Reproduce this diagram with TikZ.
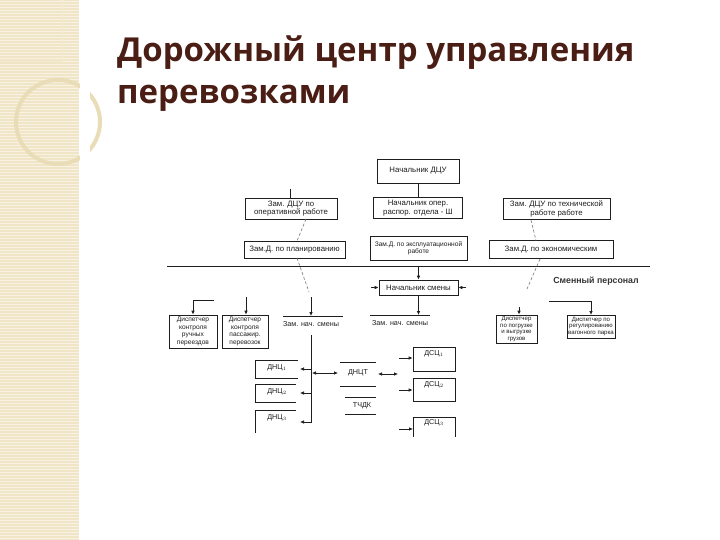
\documentclass[tikz,border=0pt]{standalone}
\usepackage{fontspec}
\setmainfont{Liberation Sans}
\newfontfamily\titlefont{Open Sans}
\usetikzlibrary{arrows.meta}
\definecolor{stripe}{HTML}{F0E5C6}
\definecolor{stripeline}{HTML}{F8F2E2}
\definecolor{ringcol}{HTML}{E9DDB8}
\definecolor{titlecol}{HTML}{4A1E14}
\definecolor{ink}{HTML}{1E1E1E}
\tikzset{
  box/.style={draw=ink, line width=0.75pt, align=center, text=ink,
    font=\fontsize{7.8}{8.6}\selectfont, inner sep=0.5pt},
  lbl/.style={align=center, text=ink, font=\fontsize{7.2}{8}\selectfont, inner sep=0.5pt},
  small/.style={font=\fontsize{6.6}{7.4}\selectfont},
  tiny/.style={font=\fontsize{6.1}{6.8}\selectfont},
  ln/.style={draw=ink, line width=0.75pt},
  arr/.style={draw=ink, line width=0.75pt, -{Latex[length=4pt,width=3.6pt]}},
  darr/.style={draw=ink, line width=0.75pt, {Latex[length=4pt,width=3.6pt]}-{Latex[length=4pt,width=3.6pt]}},
  dsh/.style={draw=ink!60, line width=0.6pt, densely dashed},
}
\begin{document}
\begin{tikzpicture}[x=1pt,y=-1pt]
\useasboundingbox (0,0) rectangle (720,540);
\fill[white] (0,0) rectangle (720,540);
% left decorative stripe
\fill[stripe] (0,0) rectangle (79,540);
\foreach \yy in {1,4,...,540} \draw[stripeline, line width=0.8pt] (0,\yy) -- (79,\yy);
\draw[ringcol!60!white, line width=1pt] (0,62) -- (62,62) -- (62,0);
\draw[ringcol!50!white, line width=3pt] (62,2) arc[start angle=0, end angle=-80, radius=58];
\draw[ringcol, line width=4pt] (58,122) circle[radius=42];
\fill[white] (79.5,0) rectangle (90,540);
% title
\node[anchor=base west, inner sep=0, text=titlecol, font=\titlefont\bfseries\fontsize{33}{40}\selectfont] (t1) at (117,62) {Дорожный центр управления};
\node[anchor=base west, inner sep=0, text=titlecol, font=\titlefont\bfseries\fontsize{33}{40}\selectfont] (t2) at (117,104) {перевозками};

% top level
\node[box, minimum width=82, minimum height=24] (ndcu) at (418,171) {Начальник ДЦУ};
\node[box, minimum width=92, minimum height=21] (zop) at (291,208.5) {Зам. ДЦУ по\\оперативной работе};
\node[box, minimum width=89, minimum height=21] (nop) at (418,208) {Начальник опер.\\распор. отдела - Ш};
\node[box, minimum width=107, minimum height=21] (ztr) at (556.5,209) {Зам. ДЦУ по технической\\работе работе};
\draw[ln] (ndcu.south) -- (nop.north);
\coordinate (zopstub) at (290,189);
\draw[ln] (zopstub) -- (zopstub |- zop.north);

% second row
\node[box, minimum width=101, minimum height=17] (zpl) at (294.5,249.5) {Зам.Д. по планированию};
\node[box, minimum width=97, minimum height=24, small] (zex) at (418.5,248.5) {Зам.Д. по эксплуатационной\\работе};
\node[box, minimum width=124, minimum height=18] (zec) at (551,249.5) {Зам.Д. по экономическим};
\draw[dsh] (306,219) -- (297,241);
\draw[dsh] (531,220) -- (536,240.5);

% main horizontal line
\coordinate (hl) at (167,266);
\coordinate (hr) at (650,266);
\draw[ln] (hl) -- (hr);
\node[lbl, font=\fontsize{8.8}{10}\selectfont\bfseries, text=ink!90] (smp) at (596,281.5) {Сменный персонал};

% shift chief
\node[box, minimum width=79, minimum height=15] (nsm) at (418.5,287.5) {Начальник смены};
\coordinate (c419) at (418.5,266);
\draw[arr] (c419) -- (nsm.north);
\coordinate (nsl) at (371,287.5);
\coordinate (nsr) at (466,287.5);
\draw[arr] (nsl) -- (nsm.west);
\draw[arr] (nsr) -- (nsm.east);

% T under shift chief
\coordinate (t3l) at (370,315);
\coordinate (t3r) at (430,315);
\draw[ln] (t3l) -- (t3r);
\draw[arr] (nsm.south) -- (418.5,315);
\node[lbl, anchor=north] (zn3) at (400,319.5) {Зам. нач. смены};

% T left
\coordinate (t2l) at (283,316);
\coordinate (t2r) at (343,316);
\draw[ln] (t2l) -- (t2r);
\coordinate (t2a) at (311,297);
\draw[arr] (t2a) -- (311,316);
\node[lbl, anchor=north] (zn2) at (311,320.5) {Зам. нач. смены};
\draw[dsh] (297,258) -- (309,292);

% dispatchers left
\node[box, minimum width=48, minimum height=33, small] (d1) at (193,331.5) {Диспетчер\\контроля\\ручных\\переездов};
\node[box, minimum width=46, minimum height=33, small] (d2) at (245,331.5) {Диспетчер\\контроля\\пассажир.\\перевозок};
\coordinate (d1a) at (193,300);
\coordinate (d1b) at (214,300);
\draw[ln] (d1a) -- (d1b);
\draw[arr] (d1a) -- (d1.north);
\coordinate (d2a) at (246,297);
\draw[arr] (d2a) -- (d2a |- d2.north);

% dispatchers right
\node[box, minimum width=41, minimum height=28, tiny] (d3) at (516.5,329) {Диспетчер\\по погрузке\\и выгрузке\\грузов};
\node[box, minimum width=48, minimum height=23, tiny] (d4) at (591,326.5) {Диспетчер по\\регулированию\\вагонного парка};
\coordinate (d3a) at (519,307);
\draw[arr] (d3a) -- (d3a |- d3.north);
\coordinate (d4l) at (549,301);
\coordinate (d4a) at (592,301);
\draw[ln] (d4l) -- (d4a);
\draw[arr] (591,301) -- (591,315);
\draw[dsh] (540,259) -- (527,289);

% bottom structure
\coordinate (vtop) at (311,335);
\coordinate (vbot) at (311,423);
\draw[ln] (vtop) -- (vbot);
% left open boxes
\draw[ln] (298,360) -- (255,360) -- (255,378) -- (298,378);
\node[lbl] (l1) at (277,368) {ДНЦ$_1$};
\draw[ln] (296,384) -- (255,384) -- (255,402) -- (296,402);
\node[lbl] (l2) at (277,392) {ДНЦ$_2$};
\draw[ln] (296,410) -- (255,410) -- (255,433);
\node[lbl] (l3) at (277,418) {ДНЦ$_3$};
\coordinate (a1) at (311,369); \coordinate (a1e) at (300,369);
\coordinate (a2) at (311,393); \coordinate (a2e) at (300,393);
\coordinate (a3) at (311,422); \coordinate (a3e) at (300,422);
\draw[arr] (a1) -- (a1e);
\draw[arr] (a2) -- (a2e);
\draw[arr] (a3) -- (a3e);
% middle
\coordinate (m1) at (312,373); \coordinate (m2) at (338,373);
\draw[darr] (m1) -- (m2);
\draw[ln] (340,362) -- (376,362);
\node[lbl] (dnct) at (358,373) {ДНЦТ};
\draw[ln] (340,386) -- (376,386);
\draw[ln] (345,397) -- (376,397);
\node[lbl] (tchdk) at (362,405.5) {ТЧДК};
\draw[ln] (345,414) -- (376,414);
\coordinate (m3) at (378,374); \coordinate (m4) at (398,374);
\draw[darr] (m3) -- (m4);
% right boxes
\node[box, minimum width=42, minimum height=24] (r1) at (434,359) {};
\node[lbl, anchor=north, yshift=-3pt] (r1t) at (r1.north) {ДСЦ$_1$};
\node[box, minimum width=42, minimum height=23] (r2) at (434,389.5) {};
\node[lbl, anchor=north, yshift=-3pt] (r2t) at (r2.north) {ДСЦ$_2$};
\draw[ln] (413,437) -- (413,417) -- (455,417) -- (455,437);
\node[lbl] (r3t) at (434,423) {ДСЦ$_3$};
\coordinate (b1) at (399,358); \coordinate (b2) at (399,390); \coordinate (b3) at (399,429);
\draw[arr] (b1) -- (r1.west |- b1);
\draw[arr] (b2) -- (r2.west |- b2);
\draw[arr] (b3) -- (413,429);
\end{tikzpicture}
\end{document}
